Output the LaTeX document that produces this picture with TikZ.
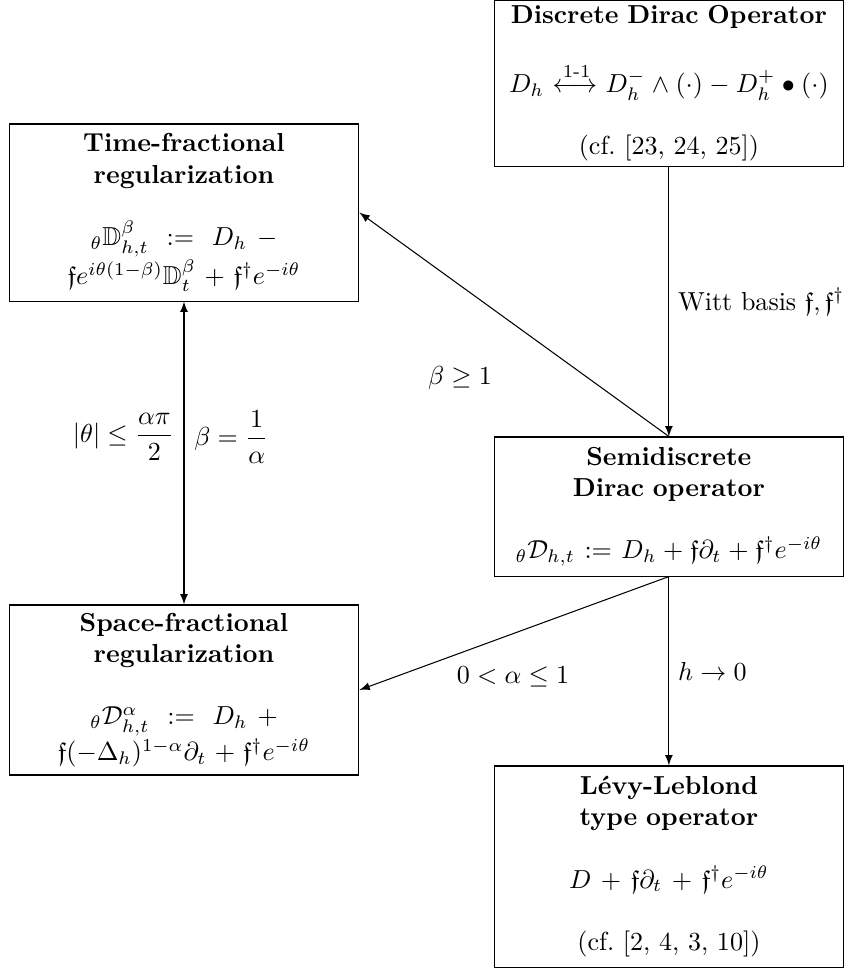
\documentclass[tikz,border=0pt]{standalone}
\usepackage{fontspec}
\usepackage{mathtools,amssymb}
\usetikzlibrary{arrows}

\begin{document}
\begin{tikzpicture}[>=latex, line width=0.4pt,
  opbox/.style={draw, align=center, text width=4.58cm, inner xsep=2pt, inner ysep=0pt, minimum height=#1},
  opbox/.default=2cm]
  \useasboundingbox (0,0) rectangle (11.475,13.095);

  \node[opbox=2.23cm] (disc) at (9.03,11.968) {\textbf{Discrete Dirac Operator}\\[12pt]
    $D_h \xleftrightarrow{\text{1-1}} D_h^- \wedge (\cdot) - D_h^+ \bullet (\cdot)$\\[12pt]
    (cf.\ [23, 24, 25])};
  \node[opbox=2.39cm] (time) at (2.484,10.226) {\textbf{Time-fractional}\\\textbf{regularization}\\[12pt]
    $_{\theta}\mathbb{D}^{\beta}_{h,t} := D_h - \mathfrak{f}e^{i\theta(1-\beta)}\mathbb{D}^{\beta}_t + \mathfrak{f}^\dagger e^{-i\theta}$};
  \node[opbox=1.877cm] (semi) at (9.03,6.257) {\textbf{Semidiscrete}\\\textbf{Dirac operator}\\[12pt]
    $_{\theta}\mathcal{D}_{h,t} := D_h + \mathfrak{f}\partial_t + \mathfrak{f}^\dagger e^{-i\theta}$};
  \node[opbox=2.295cm] (space) at (2.484,3.78) {\textbf{Space-fractional}\\\textbf{regularization}\\[12pt]
    $_{\theta}\mathcal{D}^{\alpha}_{h,t} := D_h + \mathfrak{f}(-\Delta_h)^{1-\alpha}\partial_t + \mathfrak{f}^\dagger e^{-i\theta}$};
  \node[opbox=2.714cm] (levy) at (9.03,1.397) {\textbf{Lévy-Leblond}\\\textbf{type operator}\\[12pt]
    $D + \mathfrak{f}\partial_t + \mathfrak{f}^\dagger e^{-i\theta}$\\[12pt]
    (cf.\ [2, 4, 3, 10])};

  \draw[->] (disc) -- node[right] (witt) {Witt basis $\mathfrak{f},\mathfrak{f}^\dagger$} (semi);
  \draw[->] (semi.north) -- (time.east);
  \draw[<->] (time) -- (space);
  \draw[->] (semi.south) -- (space.east);
  \draw[->] (semi) -- node[right] (hlimit) {$h \to 0$} (levy);

  \node (betaone) at (6.21,7.99) {$\beta \geq 1$};
  \node[anchor=east] (thetabound) at (2.47,7.196) {$|\theta| \leq \dfrac{\alpha\pi}{2}$};
  \node[anchor=west] (betaalpha) at (2.50,7.196) {$\beta = \dfrac{1}{\alpha}$};
  \node (alpharange) at (6.926,3.956) {$0 < \alpha \leq 1$};
\end{tikzpicture}
\end{document}
